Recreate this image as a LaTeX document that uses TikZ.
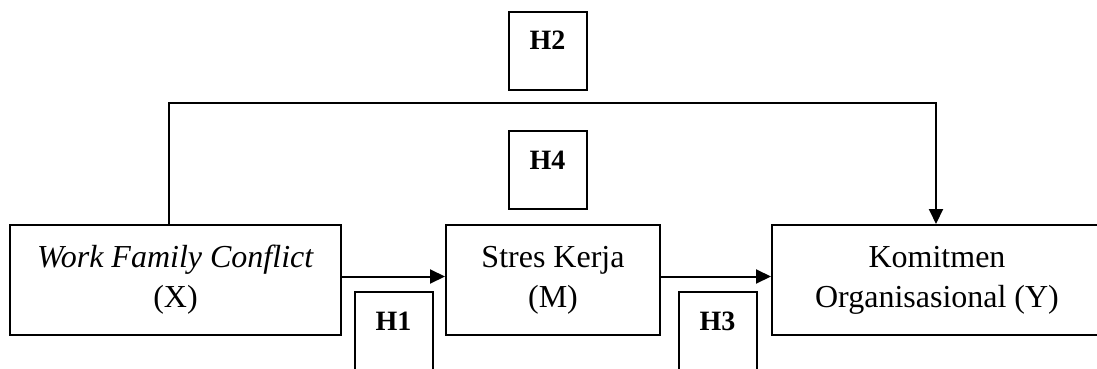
\documentclass[tikz,border=0pt]{standalone}
\usepackage{fontspec}
\setmainfont{Liberation Serif}
\usetikzlibrary{arrows.meta}
\begin{document}
\begin{tikzpicture}[x=1pt,y=-1pt,
  mainbox/.style={draw,line width=2pt,minimum height=110pt,inner sep=0pt,align=center,
    font=\fontsize{32}{40}\selectfont},
  hbox/.style={draw,line width=2pt,minimum width=78pt,minimum height=78pt,inner sep=0pt,
    text height=38pt,text depth=40pt,font=\fontsize{28}{34}\selectfont\bfseries},
  arr/.style={line width=2pt,-{Triangle[length=15pt,width=14pt]}}]
\clip (0,0) rectangle (1097,369);
\useasboundingbox (0,0) rectangle (1097,369);
\node[mainbox,minimum width=331pt] (X) at (175.5,280) {\textit{Work Family Conflict}\\(X)};
\node[mainbox,minimum width=214pt] (M) at (553,280) {Stres Kerja\\(M)};
\node[mainbox,minimum width=330pt] (Y) at (937,280) {Komitmen\\Organisasional (Y)};
\node[hbox] (H2) at (547.5,51) {H2};
\node[hbox] (H4) at (547.5,170) {H4};
\node[hbox] (H1) at (393.5,331) {H1};
\node[hbox] (H3) at (717.5,331) {H3};
\coordinate (c1) at (169,103);
\coordinate (c2) at (936,103);
\coordinate (ay) at (0,276.5);
\draw[arr] (X.north -| c1) -- (c1) -- (c2) -- (Y.north -| c2);
\draw[arr] (X.east |- ay) -- (M.west |- ay);
\draw[arr] (M.east |- ay) -- (Y.west |- ay);
\end{tikzpicture}
\end{document}
